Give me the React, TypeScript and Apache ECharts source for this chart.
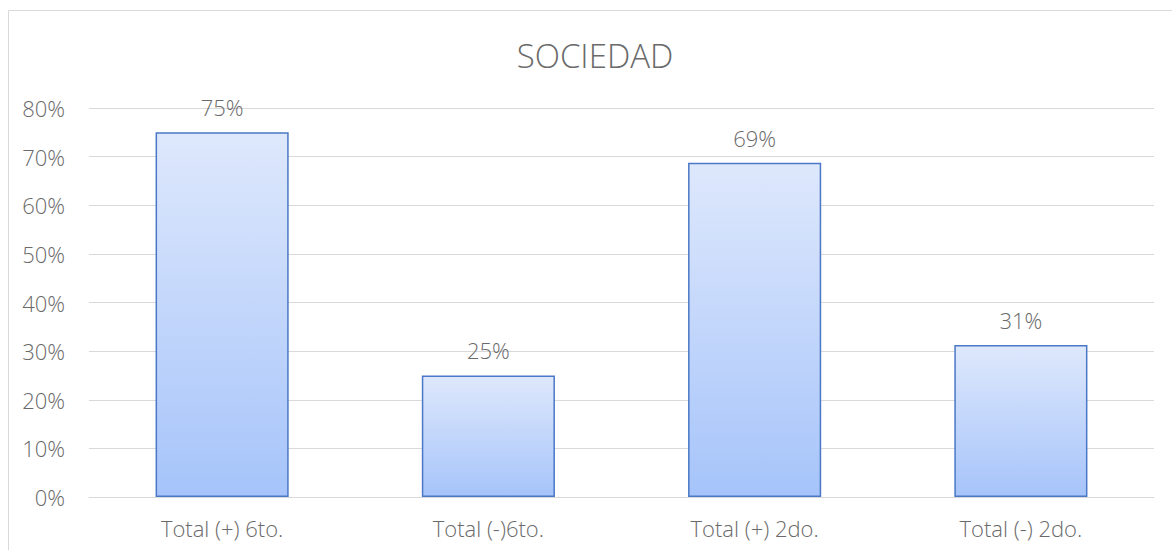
import React, { useEffect, useRef } from "react";
import * as echarts from "echarts";

const categories = ["Total (+) 6to.", "Total (-)6to.", "Total (+) 2do.", "Total (-) 2do."];
const values = [75, 25, 68.75, 31.25];
const yTicks = [0, 10, 20, 30, 40, 50, 60, 70, 80];
const chartTitle = "SOCIEDAD";

export default function App() {
  const ref = useRef<HTMLDivElement>(null);
  useEffect(() => {
    const chart = echarts.init(ref.current!, null, { renderer: "svg" });
    const font = "'Open Sans', sans-serif";
    const textColor = "#6a6a6a";
    chart.setOption({
      animation: false,
      backgroundColor: "#ffffff",
      graphic: [
        {
          type: "polyline",
          shape: { points: [[8.5, 560], [8.5, 10.5], [1180, 10.5]] },
          style: { stroke: "#d9d9d9", lineWidth: 1, fill: "none" },
          silent: true,
        },
        {
          type: "text",
          x: 595,
          y: 55,
          style: {
            text: chartTitle,
            fontFamily: font,
            fontSize: 33,
            fontWeight: 300,
            fill: textColor,
            align: "center",
            verticalAlign: "middle",
          },
          silent: true,
        },
      ],
      grid: { left: 89, right: 18, top: 108, bottom: 53 },
      xAxis: {
        type: "category",
        data: categories,
        axisLine: { show: true, lineStyle: { color: "#d9d9d9", width: 1 } },
        axisTick: { show: false },
        axisLabel: { fontFamily: font, fontSize: 22, fontWeight: 300, color: textColor, margin: 20 },
      },
      yAxis: {
        type: "value",
        min: yTicks[0],
        max: yTicks[yTicks.length - 1],
        interval: 10,
        axisLine: { show: false },
        axisTick: { show: false },
        splitLine: { lineStyle: { color: "#d9d9d9", width: 1 } },
        axisLabel: {
          fontFamily: font,
          fontSize: 22,
          fontWeight: 300,
          color: textColor,
          margin: 24,
          formatter: (v: number) => `${v}%`,
        },
      },
      series: [
        {
          type: "bar",
          data: values,
          barWidth: "50%",
          itemStyle: {
            color: new echarts.graphic.LinearGradient(0, 0, 0, 1, [
              { offset: 0, color: "#dee8fc" },
              { offset: 1, color: "#a6c4fa" },
            ]),
            borderColor: "#4a78c6",
            borderWidth: 1.5,
          },
          label: {
            show: true,
            position: "top",
            distance: 14,
            fontFamily: font,
            fontSize: 22,
            fontWeight: 300,
            color: textColor,
            formatter: (p: any) => `${Math.round(p.value)}%`,
          },
        },
      ],
    });
    return () => chart.dispose();
  }, []);
  return (
    <div
      ref={ref}
      style={{ position: "fixed", left: 0, top: 0, width: 1172, height: 550 }}
    />
  );
}
